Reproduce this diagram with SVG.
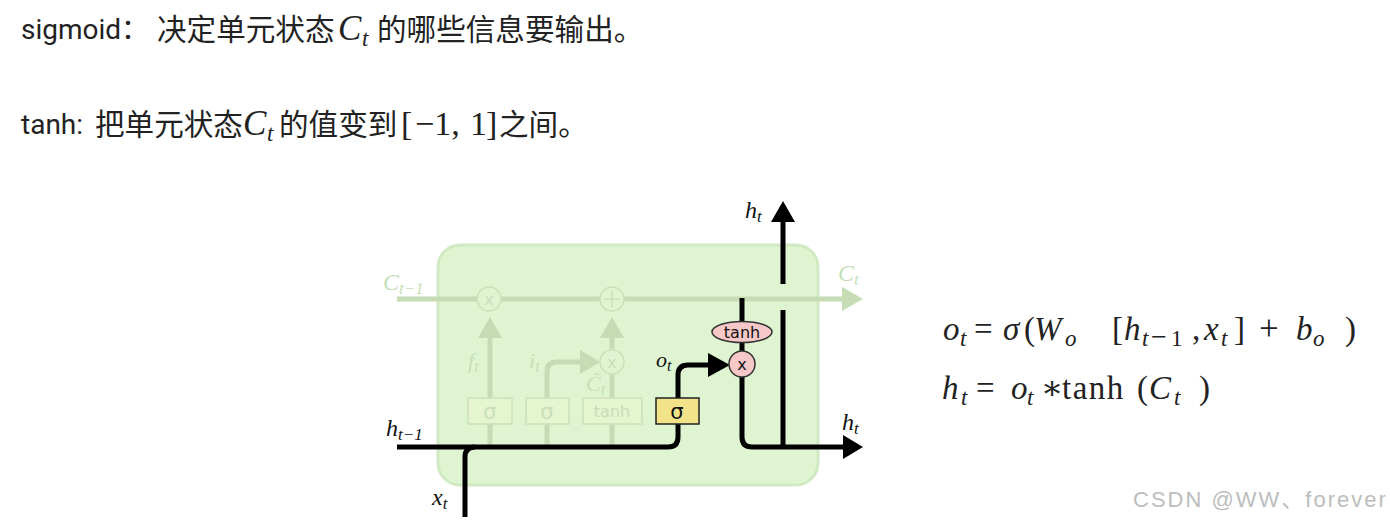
<svg xmlns="http://www.w3.org/2000/svg" width="1390" height="525" viewBox="0 0 1390 525">
<style>
.hdr{font-family:Roboto,"Noto Sans CJK SC",sans-serif;font-size:28px;fill:#222}
.cjk{font-family:"Noto Sans CJK SC",sans-serif;font-size:29.6px;fill:#222}
.mi{font-family:"Liberation Serif","DejaVu Serif",serif;font-style:italic;fill:#222}
.mr{font-family:"Liberation Serif","DejaVu Serif",serif;font-style:normal;fill:#222}
.fl{fill:none;stroke:#c6dcb4;stroke-width:5}
.ff{fill:#c6dcb4}
.ft{font-family:"Liberation Serif",serif;font-style:italic;fill:#c6dfb8}
.bl{fill:none;stroke:#000;stroke-width:5}
.fbox{fill:#e4f5cf;stroke:#cbe0ba;stroke-width:1.5}
.fcirc{fill:#dff5d1;stroke:#cbe0ba;stroke-width:1.5}
.fgl{font-family:"DejaVu Sans",sans-serif;fill:#c9deb9;text-anchor:middle}
.lab{font-family:"Liberation Serif",serif;font-style:italic;fill:#111}
.gl{font-family:"DejaVu Sans",sans-serif;fill:#111;text-anchor:middle}
</style>

<g id="header">
<text class="hdr" x="21" y="39">sigmoid：</text>
<text class="cjk" x="157" y="40">决定单元状态</text>
<text class="mi" x="338" y="40" font-size="35">C</text>
<text class="mi" x="362" y="46" font-size="23">t</text>
<text class="cjk" x="377" y="40">的哪些信息要输出。</text>

<text class="hdr" x="21" y="134">tanh: </text>
<text class="cjk" x="95" y="135">把单元状态</text>
<text class="mi" x="243" y="135" font-size="35">C</text>
<text class="mi" x="267" y="141" font-size="23">t</text>
<text class="cjk" x="279" y="135">的值变到</text>
<text class="mr" x="401" y="135" font-size="34">[</text>
<text class="mr" x="415" y="135" font-size="34">−1,</text>
<text class="mr" x="470" y="135" font-size="34">1</text>
<text class="mr" x="486" y="135" font-size="34">]</text>
<text class="cjk" x="499" y="135">之间。</text>
</g>

<g id="cell">
<rect x="438" y="245" width="380" height="240" rx="22" fill="#dff5d1" stroke="#d2eac3" stroke-width="3"/>
</g>

<g id="connectors">
<path class="fl" d="M397 299 H845"/>
<polygon class="ff" points="842,287 863,299 842,311"/>
<path class="fl" d="M490 447 V424 M490 398 V337"/>
<polygon class="ff" points="478,338 490,317 502,338"/>
<path class="fl" d="M547 447 V424 M547 398 V372 Q547 362 557 362 H582"/>
<polygon class="ff" points="580,350 600,362 580,374"/>
<path class="fl" d="M612 447 V424 M612 398 V375 M612 349 V337"/>
<polygon class="ff" points="600,338 612,317 624,338"/>
<path class="bl" d="M397 447 H668 Q678 447 678 437 V424"/>
<path class="bl" d="M465 517 V457 Q465 447 475 447"/>
<path class="bl" d="M678 398 V375 Q678 365 688 365 H710"/>
<polygon points="708,353 730,365 708,377" fill="#000"/>
<path class="bl" d="M742 298 V322 M742 343 V351 M742 377 V437 Q742 447 752 447 H845"/>
<polygon points="843,435 863,447 843,459" fill="#000"/>
<path class="bl" d="M783 447 V310 M783 284 V220"/>
<polygon points="771,222 783,201 795,222" fill="#000"/>
</g>

<g id="forget-mul">
<circle class="fcirc" cx="489" cy="299" r="12"/>
<text class="fgl" x="489" y="305" font-size="16">x</text>
</g>
<g id="add">
<circle class="fcirc" cx="612" cy="299" r="12"/>
<path d="M604 299 H620 M612 291 V307" stroke="#cbe0ba" stroke-width="1.5"/>
</g>
<g id="input-mul">
<circle class="fcirc" cx="612" cy="362" r="12"/>
<text class="fgl" x="612" y="368" font-size="16">x</text>
</g>
<g id="sigma-f">
<rect class="fbox" x="468" y="398" width="44" height="26"/>
<text class="fgl" x="490" y="419" font-size="21">σ</text>
</g>
<g id="sigma-i">
<rect class="fbox" x="526" y="398" width="43" height="26"/>
<text class="fgl" x="547" y="419" font-size="21">σ</text>
</g>
<g id="tanh-c">
<rect class="fbox" x="583" y="398" width="59" height="26"/>
<text class="fgl" x="612" y="417" font-size="16">tanh</text>
</g>

<g id="sigma-o">
<rect x="656" y="398" width="43" height="26" fill="#f2e28a" stroke="#222" stroke-width="1.5"/>
<text class="gl" x="677" y="419" font-size="21">σ</text>
</g>
<g id="tanh-out">
<ellipse cx="742" cy="332" rx="30" ry="10.5" fill="#f6c8c8" stroke="#333" stroke-width="1.5"/>
<text class="gl" x="742" y="338" font-size="16">tanh</text>
</g>
<g id="out-mul">
<circle cx="742" cy="364" r="13" fill="#f6c8c8" stroke="#333" stroke-width="1.5"/>
<text class="gl" x="742" y="370" font-size="16">x</text>
</g>

<g id="labels">
<text class="ft" x="383" y="290" font-size="24">C<tspan font-size="17" dy="4">t−1</tspan></text>
<text class="ft" x="838" y="281" font-size="24">C<tspan font-size="17" dy="4">t</tspan></text>
<text class="ft" x="468" y="368" font-size="22">f<tspan font-size="16" dy="4">t</tspan></text>
<text class="ft" x="529" y="368" font-size="22">i<tspan font-size="16" dy="4">t</tspan></text>
<text class="ft" x="586" y="391" font-size="22">C&#x303;<tspan font-size="16" dy="4">t</tspan></text>
<text class="lab" x="386" y="436" font-size="24">h<tspan font-size="17" dy="4">t−1</tspan></text>
<text class="lab" x="432" y="505" font-size="24">x<tspan font-size="17" dy="4">t</tspan></text>
<text class="lab" x="656" y="367" font-size="22">o<tspan font-size="16" dy="4">t</tspan></text>
<text class="lab" x="745" y="218" font-size="24">h<tspan font-size="17" dy="4">t</tspan></text>
<text class="lab" x="842" y="430" font-size="24">h<tspan font-size="17" dy="4">t</tspan></text>
</g>

<g id="formulas">
<text class="mi" x="943" y="340" font-size="33">o</text>
<text class="mi" x="960" y="346" font-size="23">t</text>
<text class="mr" x="974" y="340" font-size="33">=</text>
<text class="mi" x="1003" y="340" font-size="33">σ</text>
<text class="mr" x="1024" y="340" font-size="33">(</text>
<text class="mi" x="1034" y="340" font-size="33">W</text>
<text class="mi" x="1065" y="346" font-size="23">o</text>
<text class="mr" x="1112" y="340" font-size="33">[</text>
<text class="mi" x="1124" y="340" font-size="33">h</text>
<text class="mi" x="1142" y="346" font-size="23">t</text>
<text class="mr" x="1151" y="346" font-size="28">−</text>
<text class="mr" x="1171" y="346" font-size="23">1</text>
<text class="mr" x="1192" y="340" font-size="33">,</text>
<text class="mi" x="1204" y="340" font-size="33">x</text>
<text class="mi" x="1221" y="346" font-size="23">t</text>
<text class="mr" x="1234" y="340" font-size="33">]</text>
<text class="mr" x="1259" y="340" font-size="35">+</text>
<text class="mi" x="1296" y="340" font-size="33">b</text>
<text class="mi" x="1313" y="346" font-size="23">o</text>
<text class="mr" x="1345" y="340" font-size="33">)</text>

<text class="mi" x="942" y="399" font-size="33">h</text>
<text class="mi" x="961" y="405" font-size="23">t</text>
<text class="mr" x="976" y="399" font-size="33">=</text>
<text class="mi" x="1011" y="399" font-size="33">o</text>
<text class="mi" x="1027" y="405" font-size="23">t</text>
<text class="mr" x="1041" y="399" font-size="33">∗</text>
<text class="mr" x="1062" y="399" font-size="33" letter-spacing="1.5">tanh</text>
<text class="mr" x="1137" y="399" font-size="33">(</text>
<text class="mi" x="1149" y="399" font-size="33">C</text>
<text class="mi" x="1174" y="405" font-size="23">t</text>
<text class="mr" x="1199" y="399" font-size="33">)</text>
</g>

<g id="watermark">
<text x="1133" y="507" font-family="'Liberation Sans','Noto Sans CJK SC',sans-serif" font-size="22" letter-spacing="2" fill="#bdbdbd">CSDN @WW、forever</text>
</g>
</svg>
